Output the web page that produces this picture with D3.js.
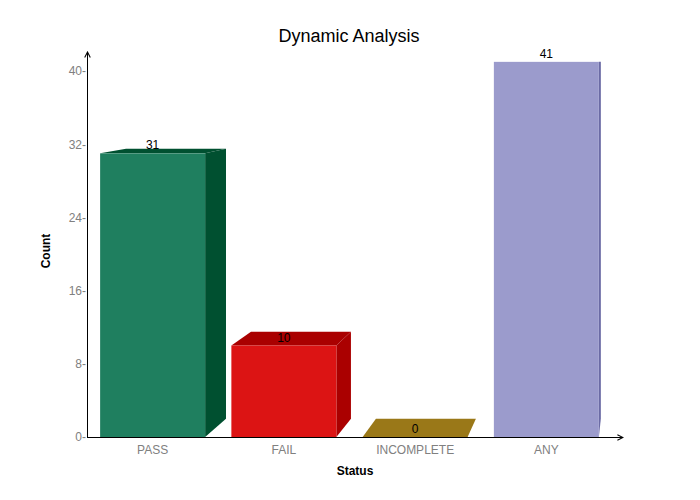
<!DOCTYPE html>
<html>
<head>
<meta charset="utf-8">
<script src="https://cdn.jsdelivr.net/npm/d3@7"></script>
<style>
  body { margin: 0; background: #fff; }
  text { font-family: "Liberation Sans", Arial, sans-serif; }
</style>
</head>
<body>
<svg width="700" height="500"></svg>
<script>
// chart data
var statuses = ["PASS", "FAIL", "INCOMPLETE", "ANY"];
var counts = [31, 10, 0, 41];
var yTicks = [0, 8, 16, 24, 32, 40];
var frontColors = ["#1f7f5f", "#dc1414", "#c9a028", "#9b9bcc"];
var darkColors = ["#005030", "#aa0000", "#9a7818", "#6b6ba5"];

var svg = d3.select("svg");

var x = d3.scaleBand().domain(statuses).range([87, 612])
    .paddingInner(0.2).paddingOuter(0.1);
var y = d3.scaleLinear().domain([0, 40]).range([437, 71]);

// perspective: back face shrinks toward a vanishing point
var vp = [640, 58], k = 0.048;
function back(p) { return [p[0] + k * (vp[0] - p[0]), p[1] + k * (vp[1] - p[1])]; }
function pts(a) { return a.map(function(p) { return p.join(","); }).join(" "); }

var bars = svg.selectAll(".bar")
    .data(statuses)
  .enter().append("g")
    .attr("class", "bar");

bars.each(function(d, i) {
  var g = d3.select(this);
  var x0 = x(d), x1 = x(d) + x.bandwidth(), yt = y(counts[i]), yb = y(0);
  var fl = [x0, yt], fr = [x1, yt], frb = [x1, yb];
  // side face
  g.append("polygon")
      .attr("points", pts([fr, back(fr), back(frb), frb]))
      .attr("fill", darkColors[i]);
  // top face
  g.append("polygon")
      .attr("points", pts([fl, back(fl), back(fr), fr]))
      .attr("fill", darkColors[i]);
  // front face
  if (counts[i] > 0) {
    g.append("rect")
        .attr("x", x0).attr("y", yt)
        .attr("width", x.bandwidth()).attr("height", yb - yt)
        .attr("fill", frontColors[i]);
  }
  g.append("text")
      .attr("x", x0 + x.bandwidth() / 2)
      .attr("y", yt - 4)
      .attr("text-anchor", "middle")
      .style("font-size", "12px")
      .attr("fill", "#000")
      .text(counts[i]);
});

// axes with arrows
svg.append("defs").append("marker")
    .attr("id", "arrow")
    .attr("viewBox", "0 0 10 10")
    .attr("refX", 9).attr("refY", 5)
    .attr("markerWidth", 7).attr("markerHeight", 7)
    .attr("orient", "auto")
  .append("path")
    .attr("d", "M1,1 L9,5 L1,9")
    .attr("fill", "none")
    .attr("stroke", "#000")
    .attr("stroke-width", 1.5);

svg.append("line")
    .attr("x1", 87.5).attr("y1", 437.5).attr("x2", 87.5).attr("y2", 52)
    .attr("stroke", "#000").attr("marker-end", "url(#arrow)");
svg.append("line")
    .attr("x1", 87).attr("y1", 437.5).attr("x2", 623).attr("y2", 437.5)
    .attr("stroke", "#000").attr("marker-end", "url(#arrow)");

// y tick labels
var yAxis = d3.axisLeft(y).tickValues(yTicks).tickSize(0).tickPadding(1)
    .tickFormat(function(d) { return d + "-"; });
var yg = svg.append("g").attr("transform", "translate(87,0)").call(yAxis);
yg.select(".domain").remove();
yg.selectAll("text").attr("fill", "#808080")
    .style("font-size", "12px").style("font-family", "'Liberation Sans', Arial, sans-serif");

// x category labels
var xAxis = d3.axisBottom(x).tickSize(0).tickPadding(8);
var xg = svg.append("g").attr("transform", "translate(0,437)").call(xAxis);
xg.select(".domain").remove();
xg.selectAll("text").attr("fill", "#808080")
    .style("font-size", "12px").style("font-family", "'Liberation Sans', Arial, sans-serif");

// titles
svg.append("text")
    .attr("x", 349).attr("y", 42)
    .attr("text-anchor", "middle")
    .style("font-size", "18px")
    .text("Dynamic Analysis");

svg.append("text")
    .attr("x", 355).attr("y", 475)
    .attr("text-anchor", "middle")
    .style("font-size", "12px").style("font-weight", "bold")
    .text("Status");

svg.append("text")
    .attr("transform", "translate(50,251) rotate(-90)")
    .attr("text-anchor", "middle")
    .style("font-size", "12px").style("font-weight", "bold")
    .text("Count");
</script>
</body>
</html>
